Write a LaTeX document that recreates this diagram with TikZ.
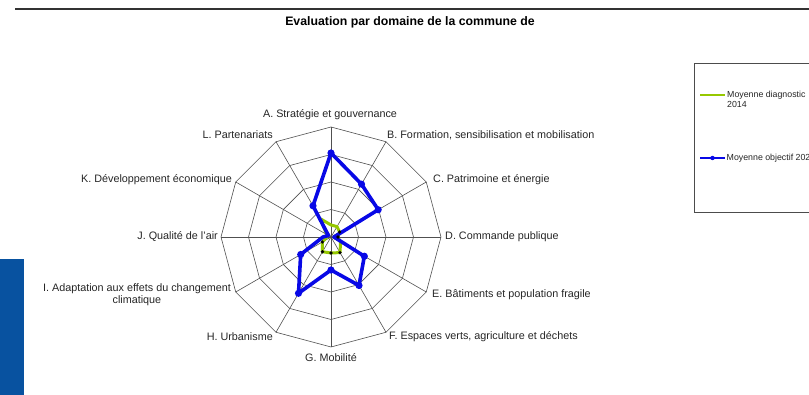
\documentclass[tikz,border=0pt]{standalone}
\usepackage{fontspec}
\setmainfont{Liberation Sans}
\definecolor{bluec}{RGB}{8,8,230}
\definecolor{greenc}{RGB}{150,200,0}
\definecolor{gridc}{RGB}{80,80,80}
\definecolor{barc}{RGB}{8,82,160}
\begin{document}
\begin{tikzpicture}[x=1pt,y=1pt,
  gridline/.style={draw=gridc,line width=0.6pt},
  axlabel/.style={inner sep=0pt,font=\fontsize{10.8}{12.5}\selectfont,text=black!85},
  legtext/.style={inner sep=0pt,font=\fontsize{8.8}{9.5}\selectfont,align=left,text=black!85},
  blueline/.style={draw=bluec,line width=3.6pt,line join=round},
  greenline/.style={draw=greenc,line width=3pt,line join=round},
  bluemark/.style={fill=bluec},
  blackmark/.style={fill=black}]
\useasboundingbox (0,0) rectangle (809,395);
\fill[white] (0,0) rectangle (809,395);
% left bar
\fill[barc] (0,0) rectangle (24,136);
% top rule
\coordinate (ruleL) at (15,386);
\coordinate (ruleR) at (809,386);
\draw[draw=black!80,line width=1.6pt] (ruleL) -- (ruleR);
% title
\node[inner sep=0pt,font=\bfseries\fontsize{12.3}{14}\selectfont] (title) at (410,373) {Evaluation par domaine de la commune de};
% radar
\begin{scope}[shift={(331,158)}]
\coordinate (O) at (0,0);
\foreach \r in {27.5,55,82.5,110}{
  \draw[gridline] (90:\r) \foreach \k in {1,...,11}{ -- (90-30*\k:\r)} -- cycle;
}
\foreach \n [count=\k from 0] in {A,B,C,D,E,F,G,H,I,J,K,L}{
  \coordinate (v\n) at (90-30*\k:110);
  \draw[gridline] (O) -- (v\n);
}
% green series
\foreach \n/\r [count=\k from 0] in {A/12,B/12,C/10,D/7,E/11,F/18,G/16,H/17,I/10,J/4,K/5,L/21}{
  \coordinate (g\n) at (90-30*\k:\r);
}
\draw[greenline] (gA) -- (gB) -- (gC) -- (gD) -- (gE) -- (gF) -- (gG) -- (gH) -- (gI) -- (gJ) -- (gK) -- (gL) -- cycle;
% blue series
\foreach \n/\r [count=\k from 0] in {A/84,B/61,C/54.5,D/3,E/38.5,F/56,G/33,H/65,I/35,J/8,K/3,L/36}{
  \coordinate (b\n) at (90-30*\k:\r);
}
\draw[blueline] (bA) -- (bB) -- (bC) -- (bD) -- (bE) -- (bF) -- (bG) -- (bH) -- (bI) -- (bJ) -- (bK) -- (bL) -- cycle;
\foreach \n in {A,B,C,E,F,G,H,I,L}{
  \fill[bluemark] (b\n) circle (3.6);
}
\foreach \n in {C,D,F,G,H,I}{
  \fill[blackmark] (g\n) circle (1.8);
}
\end{scope}
% axis labels
\node[axlabel,anchor=south] (lA) at (330,275) {A. Stratégie et gouvernance};
\node[axlabel,anchor=west] (lB) at (387,260) {B. Formation, sensibilisation et mobilisation};
\node[axlabel,anchor=west] (lC) at (433,215) {C. Patrimoine et énergie};
\node[axlabel,anchor=west] (lD) at (445,158) {D. Commande publique};
\node[axlabel,anchor=west] (lE) at (432,100) {E. Bâtiments et population fragile};
\node[axlabel,anchor=west] (lF) at (389,58) {F. Espaces verts, agriculture et déchets};
\node[axlabel,anchor=north] (lG) at (331,42) {G. Mobilité};
\node[axlabel,anchor=east] (lH) at (273,58) {H. Urbanisme};
\node[axlabel,anchor=east,align=center] (lI) at (231,100.5) {I. Adaptation aux effets du changement\\climatique};
\node[axlabel,anchor=east] (lJ) at (218,158) {J. Qualité de l'air};
\node[axlabel,anchor=east] (lK) at (232,215) {K. Développement économique};
\node[axlabel,anchor=east] (lL) at (273,260) {L. Partenariats};
% legend
\draw[draw=black!70,line width=0.7pt] (694,183) rectangle (815,332);
\coordinate (lg1a) at (700,300);
\coordinate (lg1b) at (725,300);
\draw[greenline,line width=2.4pt] (lg1a) -- (lg1b);
\node[legtext,anchor=north west] (leg1) at (727,304) {Moyenne diagnostic\\2014};
\coordinate (lg2a) at (700,237);
\coordinate (lg2b) at (725,237);
\draw[blueline,line width=2.4pt] (lg2a) -- (lg2b);
\fill[bluemark] (712.5,237) circle (2.2);
\node[legtext,anchor=west] (leg2) at (726.5,237) {Moyenne objectif 202};
\end{tikzpicture}
\end{document}
